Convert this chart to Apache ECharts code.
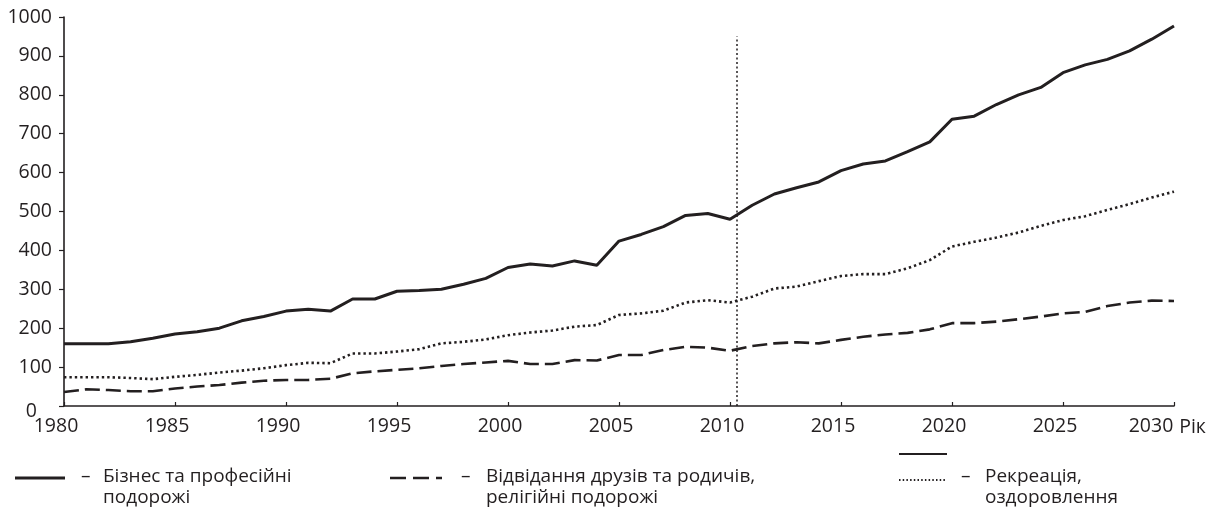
<!DOCTYPE html>
<html>
<head>
<meta charset="utf-8">
<script src="https://cdn.jsdelivr.net/npm/echarts@6/dist/echarts.min.js"></script>
<style>
html,body{margin:0;padding:0;background:#fff;}
#chart{width:1220px;height:512px;}
</style>
</head>
<body>
<div id="chart"></div>
<script>
const years = [1980,1981,1982,1983,1984,1985,1986,1987,1988,1989,1990,1991,1992,1993,1994,1995,1996,1997,1998,1999,2000,2001,2002,2003,2004,2005,2006,2007,2008,2009,2010,2011,2012,2013,2014,2015,2016,2017,2018,2019,2020,2021,2022,2023,2024,2025,2026,2027,2028,2029,2030];
const business = [160,160,160,165,174,185,191,200,219,230,244,249,244,275,275,295,297,300,313,328,356,365,360,373,362,424,441,461,490,495,480,516,545,561,576,605,622,630,654,679,737,745,775,800,819,857,877,891,913,943,977];
const friends = [36,43,41,38,38,45,50,54,60,65,67,67,70,84,89,93,97,103,108,112,116,108,108,118,117,131,131,144,152,150,142,154,161,164,161,170,178,184,188,197,213,213,217,223,230,238,242,257,266,271,270];
const recreation = [74,74,74,72,69,75,80,86,91,97,105,111,110,135,135,140,146,161,165,171,182,189,194,204,208,234,238,245,266,272,266,281,302,307,321,334,339,339,354,375,410,422,433,446,463,478,488,504,519,536,551];
const yTicks = [0,100,200,300,400,500,600,700,800,900,1000];
const xTicks = [1980,1985,1990,1995,2000,2005,2010,2015,2020,2025,2030];
const markerYear = 2010.3;
const markerTop = 950;
const legendNames = ['Бізнес та професійні\nподорожі','Відвідання друзів та родичів,\nрелігійні подорожі','Рекреація,\nоздоровлення'];
const xName = 'Рік';

const ink = '#231f20';
const font = 'Open Sans';
const fs = 19.5;
const pair = arr => years.map((y,i)=>[y,arr[i]]);

const chart = echarts.init(document.getElementById('chart'), null, {renderer:'canvas'});
const lineG = (x1,x2,y,dash,w) => ({type:'line', shape:{x1:x1,y1:y,x2:x2,y2:y}, style:{stroke:ink, lineWidth:w||3, lineDash:dash||null}});
const textG = (x,y,t) => ({type:'text', left:x, top:y, style:{text:t, fontFamily:font, fontSize:19, fill:ink, lineHeight:21}});
const rs = pad => ({fontFamily:font,fontSize:fs,color:ink,padding:pad});

chart.setOption({
  animation:false,
  backgroundColor:'#fff',
  grid:{left:64,right:46,top:17,bottom:106,containLabel:false},
  xAxis:{
    type:'value', min:1980, max:2030, interval:5,
    name:xName, nameLocation:'end', nameGap:5,
    nameTextStyle:{fontFamily:font,fontSize:fs,color:ink,verticalAlign:'top',padding:[11,0,0,0]},
    axisLine:{show:true,lineStyle:{color:ink,width:1.6}},
    axisTick:{show:true,inside:true,length:4,lineStyle:{color:ink,width:1.2}},
    axisLabel:{fontFamily:font,fontSize:fs,color:ink,margin:10,
      formatter:v=>!xTicks.includes(v)?'':(v===2030?'{e|'+v+'}':'{n|'+v+'}'),
      rich:{n:rs([0,16,0,0]),e:rs([0,46,0,0])}},
    splitLine:{show:false}
  },
  yAxis:{
    type:'value', min:0, max:1000, interval:100,
    axisLine:{show:true,lineStyle:{color:ink,width:1.6}},
    axisTick:{show:true,length:5,lineStyle:{color:ink,width:1.2}},
    axisLabel:{fontFamily:font,fontSize:fs,color:ink,margin:12,
      formatter:v=>v===0?'{z|0}':(yTicks.includes(v)?String(v):''),
      rich:{z:rs([10,15,0,0])}},
    splitLine:{show:false}
  },
  series:[
    {name:legendNames[0],type:'line',data:pair(business),showSymbol:false,symbol:'none',
     lineStyle:{color:ink,width:3,type:'solid'},
     markLine:{silent:true,symbol:'none',label:{show:false},
       lineStyle:{color:ink,width:1.5,type:[2,2.5]},
       data:[[{coord:[markerYear,0]},{coord:[markerYear,markerTop]}]]}},
    {name:legendNames[1],type:'line',data:pair(friends),showSymbol:false,symbol:'none',
     lineStyle:{color:ink,width:2.6,type:[15,6]}},
    {name:legendNames[2],type:'line',data:pair(recreation),showSymbol:false,symbol:'none',
     lineStyle:{color:ink,width:2.6,type:[2.4,3]}}
  ],
  graphic:[
    lineG(15,65,478),
    textG(81,466,'–'),
    textG(103,466,legendNames[0]),
    lineG(390,442,478,[16,7],2.6),
    textG(461,466,'–'),
    textG(486,466,legendNames[1]),
    lineG(899,947,454,null,2),
    lineG(899,947,480,[1.5,2.2],2),
    textG(961,466,'–'),
    textG(985,466,legendNames[2])
  ]
});
</script>
</body>
</html>
